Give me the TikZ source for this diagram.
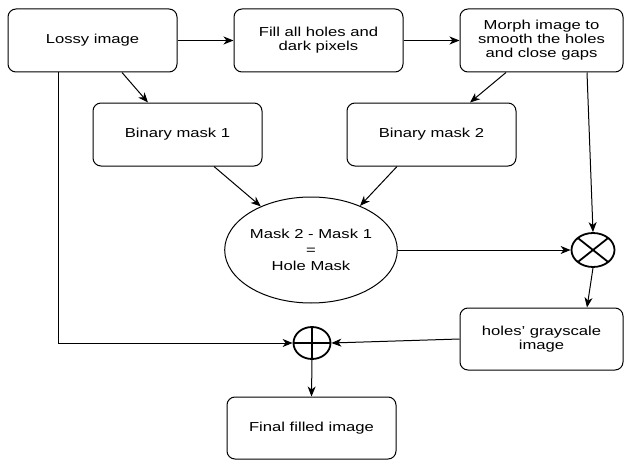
\documentclass[tikz,border=0pt]{standalone}
\usepackage{fontspec}
\setmainfont{Liberation Sans}[FakeStretch=1.28]
\usetikzlibrary{arrows.meta,shapes.geometric}

\begin{document}
\begin{tikzpicture}[x=1pt,y=-1pt,
  box/.style={draw,rounded corners=8pt,line width=1pt,align=center,
    minimum height=63pt,minimum width=169pt,inner sep=2pt},
  op/.style={draw,ellipse,line width=1.8pt,inner sep=0pt},
  arr/.style={line width=1pt,-{Stealth[length=10pt,width=8pt,inset=3pt]}},
  every node/.style={font=\fontsize{13}{14}\selectfont}]

  \useasboundingbox (0,0) rectangle (624,460);

  \draw (92.5,40.5) node[box] (lossy) {Lossy image};
\draw (318.5,40.5) node[box] (fill) {Fill all holes and\\dark pixels};
\draw (541.5,40.5) node[box,minimum width=163pt] (morph) {Morph image to\\smooth the holes\\and close gaps};

  \draw (177.5,134.5) node[box] (bin1) {Binary mask 1};
\draw (431.5,134.5) node[box] (bin2) {Binary mask 2};

  \draw (311,250) node[draw,ellipse,line width=1pt,minimum width=156pt,minimum height=106pt,align=center,inner sep=0pt,
    font=\fontsize{13}{16}\selectfont] (hole) {Mask 2 - Mask 1\\=\\Hole Mask};

  \draw (593,250) node[op,minimum width=43pt,minimum height=34pt,
    path picture={\draw[line width=1.8pt] (path picture bounding box.north west) -- (path picture bounding box.south east)
      (path picture bounding box.north east) -- (path picture bounding box.south west);}] (mul) {};

  \draw (541.5,339) node[box,minimum width=163pt,minimum height=62pt] (grey) {holes' grayscale\\image};

  \draw (312,343) node[op,minimum width=37pt,minimum height=32pt,
    path picture={\draw[line width=1.8pt] (path picture bounding box.north) -- (path picture bounding box.south)
      (path picture bounding box.west) -- (path picture bounding box.east);}] (add) {};

  \draw (311.5,428) node[box,minimum height=62pt] (final) {Final filled image};


  \draw[arr] (lossy) -- (fill);
  \draw[arr] (fill) -- (morph);
  \draw[arr] ([xshift=29.5pt]lossy.south) -- ([xshift=-29.5pt]bin1.north);
  \draw[arr] ([xshift=-35.5pt]morph.south) -- ([xshift=38.5pt]bin2.north);

  \draw[arr] ([xshift=36.5pt]bin1.south) -- (hole.139);
  \draw[arr] ([xshift=-34.5pt]bin2.south) -- (hole.42);

  \draw[arr] ([xshift=45.5pt]morph.south) -- (mul.north);
  \draw[arr] (hole.east) -- (mul.west);
  \draw[arr] (mul.south) -- ([xshift=45.5pt]grey.north);

  \draw[arr] (grey.west) -- (add.east);
  \draw[arr] ([xshift=-34.5pt]lossy.south) |- (add.west);
  \draw[arr] (add.south) -- (final.north);

\end{tikzpicture}
\end{document}
